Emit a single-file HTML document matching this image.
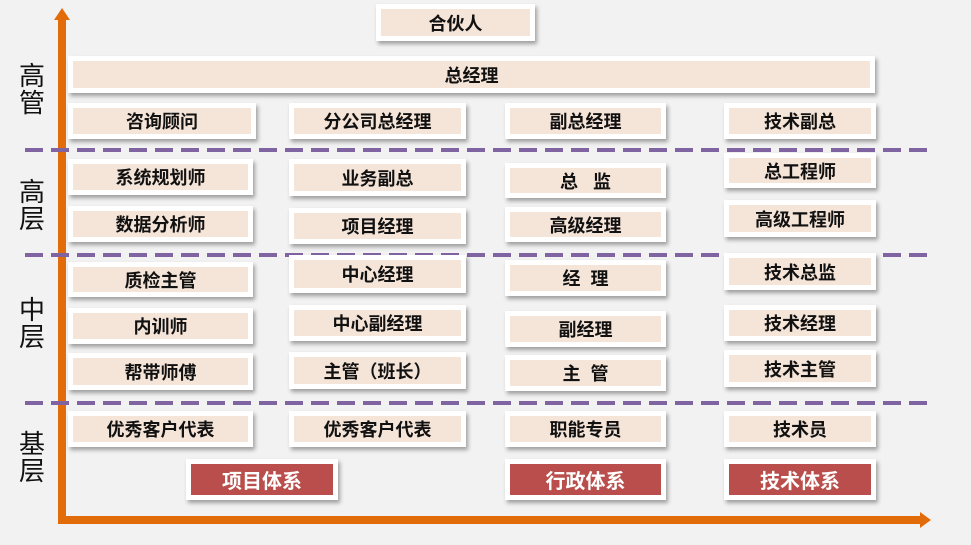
<!DOCTYPE html><html><head><meta charset="utf-8"><style>
body{margin:0;width:971px;height:545px;background:#f2f2f2;position:relative;overflow:hidden;font-family:"Liberation Sans","Noto Sans CJK SC",sans-serif}
.b{position:absolute;background:#fff;box-shadow:2px 3px 4px rgba(0,0,0,.35);box-sizing:border-box;padding:5px}
.b div{background:#f5e4d8;width:100%;height:100%;display:flex;align-items:center;justify-content:center;font-weight:bold;font-size:18px;color:#111}
.b.r div{background:#b94e4c;color:#fff;font-size:20px}
.d{position:absolute;left:25px;width:902px;height:4px;background:repeating-linear-gradient(90deg,#8064a2 0 18px,transparent 18px 26px)}
.l{position:absolute;left:19px;font-size:26px;line-height:27px;width:28px;color:#111}
</style></head><body>
<div style="position:absolute;left:58px;top:20px;width:8px;height:504px;background:#e36c0a"></div>
<div style="position:absolute;left:54px;top:8px;width:0;height:0;border-left:8px solid transparent;border-right:8px solid transparent;border-bottom:12px solid #e36c0a"></div>
<div style="position:absolute;left:58px;top:516px;width:864px;height:8px;background:#e36c0a"></div>
<div style="position:absolute;left:920px;top:512px;width:0;height:0;border-top:8px solid transparent;border-bottom:8px solid transparent;border-left:11px solid #e36c0a"></div>
<div class="d" style="top:148px"></div><div class="d" style="top:253px"></div><div class="d" style="top:401px"></div>
<div class="l" style="top:63px">高<br>管</div>
<div class="l" style="top:179px">高<br>层</div>
<div class="l" style="top:297px">中<br>层</div>
<div class="l" style="top:431px">基<br>层</div>
<div class="b" style="left:376px;top:4px;width:159px;height:37px"><div>合伙人</div></div>
<div class="b" style="left:68px;top:56px;width:807px;height:37px"><div>总经理</div></div>
<div class="b" style="left:68px;top:103px;width:188px;height:36px"><div>咨询顾问</div></div>
<div class="b" style="left:289px;top:103px;width:177px;height:36px"><div>分公司总经理</div></div>
<div class="b" style="left:505px;top:103px;width:161px;height:36px"><div>副总经理</div></div>
<div class="b" style="left:724px;top:103px;width:152px;height:36px"><div>技术副总</div></div>
<div class="b" style="left:68px;top:159px;width:185px;height:36px"><div>系统规划师</div></div>
<div class="b" style="left:289px;top:159px;width:177px;height:37px"><div>业务副总</div></div>
<div class="b" style="left:505px;top:163px;width:161px;height:35px"><div>总&nbsp;&nbsp;&nbsp;监</div></div>
<div class="b" style="left:724px;top:153px;width:152px;height:35px"><div>总工程师</div></div>
<div class="b" style="left:68px;top:206px;width:185px;height:36px"><div>数据分析师</div></div>
<div class="b" style="left:289px;top:208px;width:177px;height:36px"><div>项目经理</div></div>
<div class="b" style="left:505px;top:207px;width:161px;height:35px"><div>高级经理</div></div>
<div class="b" style="left:724px;top:200px;width:152px;height:37px"><div>高级工程师</div></div>
<div class="b" style="left:68px;top:262px;width:185px;height:35px"><div>质检主管</div></div>
<div class="b" style="left:289px;top:255px;width:177px;height:38px"><div>中心经理</div></div>
<div class="b" style="left:505px;top:260px;width:161px;height:36px"><div>经&nbsp;&nbsp;理</div></div>
<div class="b" style="left:724px;top:253px;width:152px;height:37px"><div>技术总监</div></div>
<div class="b" style="left:68px;top:308px;width:185px;height:36px"><div>内训师</div></div>
<div class="b" style="left:289px;top:305px;width:177px;height:36px"><div>中心副经理</div></div>
<div class="b" style="left:505px;top:311px;width:161px;height:36px"><div>副经理</div></div>
<div class="b" style="left:724px;top:305px;width:152px;height:36px"><div>技术经理</div></div>
<div class="b" style="left:68px;top:353px;width:185px;height:37px"><div>帮带师傅</div></div>
<div class="b" style="left:289px;top:352px;width:177px;height:37px"><div>主管（班长）</div></div>
<div class="b" style="left:505px;top:355px;width:161px;height:36px"><div>主&nbsp;&nbsp;管</div></div>
<div class="b" style="left:724px;top:350px;width:152px;height:37px"><div>技术主管</div></div>
<div class="b" style="left:68px;top:411px;width:185px;height:36px"><div>优秀客户代表</div></div>
<div class="b" style="left:289px;top:411px;width:177px;height:36px"><div>优秀客户代表</div></div>
<div class="b" style="left:505px;top:411px;width:161px;height:36px"><div>职能专员</div></div>
<div class="b" style="left:724px;top:411px;width:152px;height:36px"><div>技术员</div></div>
<div class="b r" style="left:186px;top:459px;width:152px;height:41px"><div>项目体系</div></div>
<div class="b r" style="left:505px;top:459px;width:161px;height:41px"><div>行政体系</div></div>
<div class="b r" style="left:724px;top:459px;width:152px;height:41px"><div>技术体系</div></div>
</body></html>
